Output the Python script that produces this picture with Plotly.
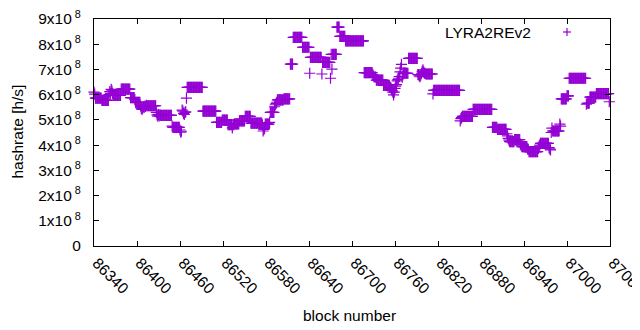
import plotly.graph_objects as go

# hashrate per block, in units of 1e8 h/s, blocks 86340 .. 87059
hashrate_e8 = [
    6.10, 6.02,
    5.86, 5.86, 5.86, 5.86, 5.86, 5.86, 5.86, 5.86, 5.86,
    5.77, 5.77, 5.77, 5.77, 5.77, 5.77, 5.77, 5.77, 5.77, 5.77,
    6.00, 6.12, 6.05, 6.21, 6.15, 6.05, 6.00,
    5.97, 5.97, 5.97, 5.97, 5.97, 5.97, 5.97, 5.97, 5.97, 5.97,
    6.22, 6.22, 6.22, 6.22, 6.22, 6.22, 6.22, 6.22, 6.22, 6.22, 6.22, 6.22, 6.22,
    5.88, 5.88, 5.88, 5.88, 5.88, 5.88,
    5.80,
    5.70, 5.70, 5.70, 5.70, 5.70, 5.70, 5.70,
    5.55, 5.46, 5.42, 5.48, 5.52, 5.50, 5.55, 5.53, 5.58,
    5.56, 5.56, 5.56, 5.56, 5.56, 5.56, 5.56, 5.56, 5.56, 5.56, 5.56, 5.56, 5.56,
    5.30, 5.20, 5.15, 5.22, 5.16, 5.20,
    5.18, 5.18, 5.18, 5.18, 5.18, 5.18, 5.18, 5.18, 5.18, 5.18, 5.18, 5.18, 5.18, 5.18, 5.18, 5.18,
    4.75,
    4.70, 4.70, 4.70, 4.70, 4.70, 4.70, 4.70, 4.70, 4.70, 4.70,
    4.60, 4.51, 4.55, 5.39, 5.35, 5.26, 5.22, 5.30, 5.32, 5.86,
    6.29, 6.29, 6.29, 6.29, 6.29, 6.29, 6.29, 6.29, 6.29, 6.29, 6.29,
    6.29, 6.29, 6.29, 6.29, 6.29, 6.29, 6.29, 6.29, 6.29, 6.29, 6.29,
    5.35, 5.35, 5.35, 5.35, 5.35, 5.35, 5.35, 5.35, 5.35, 5.35,
    5.35, 5.35, 5.35, 5.35, 5.35, 5.35, 5.35, 5.35, 5.35,
    4.90, 4.90, 4.90, 4.90, 4.90, 4.90, 4.90, 4.90,
    4.99, 4.99, 4.99, 4.99, 4.99, 4.99, 4.99, 4.99,
    4.81, 4.81, 4.81, 4.81, 4.81, 4.81, 4.68, 4.81, 4.81,
    4.84, 4.84, 4.84, 4.84, 4.84, 4.84, 4.84,
    4.96, 4.96, 4.96, 4.96, 4.96, 4.96, 4.96, 4.96,
    5.14, 5.14, 5.14, 5.14, 5.14, 5.14, 5.14, 5.14,
    4.87, 4.87, 4.87, 4.87, 4.87, 4.87, 4.87, 4.87, 4.87, 4.87, 4.87, 4.87, 4.87, 4.87, 4.87, 4.87,
    4.80, 4.56, 4.62, 4.67,
    4.83, 4.83, 4.83, 4.83, 4.83, 4.83,
    4.90,
    5.30, 5.30, 5.30, 5.30, 5.30, 5.30,
    5.52, 5.60, 5.65, 5.70,
    5.79, 5.79, 5.79, 5.79, 5.79, 5.79, 5.79, 5.79, 5.79,
    5.83, 5.83, 5.83, 5.83, 5.83, 5.83, 5.83, 5.83, 5.83,
    7.21, 7.21, 7.21, 7.21,
    8.27, 8.27, 8.27, 8.27, 8.27, 8.27, 8.27, 8.27, 8.27, 8.27, 8.27, 8.27, 8.27,
    7.88, 7.88, 7.88, 7.88, 7.88, 7.88, 7.88, 7.88, 7.88, 7.88,
    6.85,
    7.48, 7.48, 7.48, 7.48, 7.48, 7.48, 7.48, 7.48, 7.48, 7.48, 7.48, 7.48, 7.48, 7.48, 7.48, 7.48,
    6.82,
    7.28, 7.28, 7.28, 7.28, 7.28, 7.28, 7.28, 7.28, 7.28, 7.28, 7.28,
    6.65, 7.60, 7.01,
    7.60, 7.60, 7.60, 7.60, 7.60, 7.60,
    8.68, 8.68, 8.68, 8.68,
    8.31, 8.31, 8.31, 8.31, 8.31, 8.31, 8.31, 8.31,
    8.13, 8.13, 8.13, 8.13, 8.13, 8.13, 8.13, 8.13, 8.13, 8.13, 8.13, 8.13, 8.13,
    8.13, 8.13, 8.13, 8.13, 8.13, 8.13, 8.13, 8.13, 8.13, 8.13, 8.13, 8.13, 8.13,
    6.87, 6.87, 6.87, 6.87, 6.87, 6.87, 6.87, 6.87, 6.87, 6.87, 6.87, 6.87,
    6.80, 6.74, 6.70, 6.70, 6.70,
    6.58, 6.58, 6.58, 6.58, 6.58, 6.58, 6.58, 6.58, 6.58, 6.58,
    6.37, 6.37, 6.37, 6.37, 6.37, 6.37, 6.37, 6.37, 6.37,
    6.30, 6.28, 6.22, 6.16, 6.10, 5.99, 6.10, 6.25, 6.34, 6.40, 6.55, 6.60, 6.65, 6.72, 6.90, 7.05, 7.20, 6.69,
    6.85, 6.85, 6.85, 6.85, 6.85, 6.85, 6.85, 6.85,
    7.44, 7.44, 7.44, 7.44, 7.44, 7.44, 7.44, 7.44, 7.44, 7.44, 7.44, 7.44, 7.44,
    6.80, 6.78, 6.74, 6.71, 6.78, 6.85, 6.92, 6.98, 6.90, 6.85, 6.85,
    6.82, 6.82, 6.82, 6.82, 6.82, 6.82, 6.82, 6.82, 6.82, 6.82,
    6.03,
    6.17, 6.17, 6.17, 6.17, 6.17, 6.17, 6.17, 6.17, 6.17, 6.17, 6.17, 6.17,
    6.17, 6.17, 6.17, 6.17, 6.17, 6.17, 6.17, 6.17, 6.17, 6.17, 6.17, 6.17,
    6.17, 6.17, 6.17, 6.17, 6.17, 6.17, 6.17, 6.17, 6.17, 6.17, 6.17, 6.17, 6.17,
    4.96, 5.05, 5.09,
    5.14, 5.14, 5.14, 5.14, 5.14, 5.14, 5.14, 5.14, 5.14, 5.14, 5.14, 5.14, 5.14, 5.14, 5.14,
    5.42, 5.42, 5.42, 5.42, 5.42, 5.42, 5.42, 5.42, 5.42, 5.42, 5.42, 5.42, 5.42, 5.42,
    5.42, 5.42, 5.42, 5.42, 5.42, 5.42, 5.42, 5.42, 5.42, 5.42, 5.42, 5.42, 5.42,
    4.70, 4.70, 4.70, 4.70, 4.70, 4.70, 4.70,
    4.62, 4.62, 4.62, 4.62, 4.62, 4.62, 4.62, 4.62, 4.62, 4.62, 4.62, 4.62, 4.62,
    4.45, 4.37, 4.27, 4.20,
    4.14, 4.14, 4.14, 4.14, 4.14, 4.14, 4.14,
    4.22, 4.22, 4.22, 4.22, 4.22, 4.22, 4.22, 4.22,
    4.04, 4.00,
    3.94, 3.94, 3.94, 3.94, 3.94, 3.94, 3.94, 3.94,
    3.85, 3.83,
    3.74, 3.74, 3.74, 3.74, 3.74, 3.74, 3.74, 3.74, 3.74, 3.74, 3.74, 3.74, 3.74,
    3.87, 3.95, 4.00,
    4.07, 4.07, 4.07, 4.07, 4.07, 4.07, 4.07, 4.07, 4.07, 4.07, 4.07, 4.07,
    3.90, 3.85, 3.81, 4.50, 4.67,
    4.56, 4.56, 4.56, 4.56, 4.56, 4.56, 4.56, 4.56, 4.56, 4.56,
    4.83, 4.75,
    5.83, 5.83, 5.83, 5.83, 5.83, 5.83, 5.83, 5.83,
    5.95, 5.95, 5.95,
    6.65, 6.65, 6.65, 6.65, 6.65, 6.65, 6.65, 6.65, 6.65, 6.65, 6.65, 6.65,
    6.65, 6.65, 6.65, 6.65, 6.65, 6.65, 6.65, 6.65, 6.65, 6.65, 6.65, 6.65,
    5.62,
    5.66, 5.66, 5.66, 5.66,
    5.90, 5.90, 5.90, 5.90, 5.90, 5.90, 5.90, 5.90, 5.90,
    6.04, 6.04, 6.04, 6.04, 6.04, 6.04, 6.04, 6.04, 6.04,
    6.04, 6.04, 6.04, 6.04, 6.04, 6.04, 6.04, 6.04, 6.04,
    5.72,
]
first_block = 86340
blocks = list(range(first_block, first_block + len(hashrate_e8)))

x_ticks = [86340, 86400, 86460, 86520, 86580, 86640, 86700, 86760, 86820, 86880, 86940, 87000, 87060]
y_ticks = [0, 1, 2, 3, 4, 5, 6, 7, 8, 9]
y_ticktext = ["0"] + [f"{v}x10<sup> 8</sup>" for v in y_ticks[1:]]
series_name = "LYRA2REv2"

COLOR = "#9400D3"
FONT = "Liberation Sans, Arial, sans-serif"
FS = 15.5

# The page body has an 8px default margin: the figure is sized and its margins
# offset so that the plot area lands at x 94..610, y 19..246 of the window.
OFF = 8
W, H = 640 - OFF, 330 - OFF
ML, MR, MT, MB = 94 - OFF, 30, 19 - OFF, 84
PW, PH = W - ML - MR, H - MT - MB


def px_x(x):
    return (x - OFF - ML) / PW


def px_y(y):
    return (H - MB - (y - OFF)) / PH


fig = go.Figure()
fig.add_trace(go.Scatter(
    x=blocks, y=hashrate_e8, mode="markers", name=series_name,
    marker=dict(symbol="cross-thin", size=8, color=COLOR,
                line=dict(color=COLOR, width=1.2)),
    cliponaxis=False, showlegend=False,
))

axis_common = dict(showline=True, linecolor="black", linewidth=1, mirror="ticks",
                   ticks="inside", ticklen=5, tickcolor="black", tickwidth=1,
                   showgrid=False, zeroline=False, automargin=False,
                   ticklabeloverflow="allow",
                   tickfont=dict(family=FONT, size=FS, color="black"))

fig.update_layout(
    width=W, height=H,
    margin=dict(l=ML, r=MR, t=MT, b=MB),
    paper_bgcolor="white", plot_bgcolor="white",
    font=dict(family=FONT, size=FS, color="black"),
    xaxis=dict(range=[86340, 87060], tickvals=x_ticks,
               ticktext=[str(t) for t in x_ticks], tickangle=45,
               ticklabelstandoff=1, ticklabelshift=3, **axis_common),
    yaxis=dict(range=[0, 9], tickvals=y_ticks, ticktext=y_ticktext,
               ticklabelstandoff=9, **axis_common),
    annotations=[
        dict(text="hashrate [h/s]", xref="paper", yref="paper",
             x=px_x(16.5), y=px_y(132), textangle=-90, showarrow=False,
             xanchor="center", yanchor="middle", font=dict(size=FS)),
        dict(text="block number", xref="paper", yref="paper",
             x=px_x(349), y=px_y(315), showarrow=False,
             xanchor="center", yanchor="middle", font=dict(size=FS)),
        dict(text=series_name, xref="paper", yref="paper",
             x=px_x(533), y=px_y(32), showarrow=False,
             xanchor="right", yanchor="middle", font=dict(size=FS)),
    ],
)

# legend sample "+"
cx, cy = px_x(567), px_y(32)
dx, dy = 4 / PW, 4 / PH
fig.add_shape(type="line", xref="paper", yref="paper", x0=cx - dx, x1=cx + dx,
              y0=cy, y1=cy, line=dict(color=COLOR, width=1.2))
fig.add_shape(type="line", xref="paper", yref="paper", x0=cx, x1=cx,
              y0=cy - dy, y1=cy + dy, line=dict(color=COLOR, width=1.2))

fig.write_html("out.html")
